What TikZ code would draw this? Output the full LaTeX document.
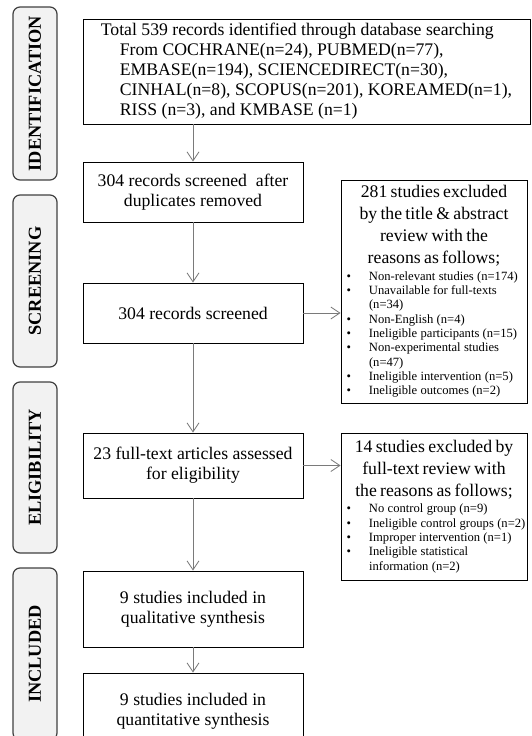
\documentclass[tikz,border=0pt]{standalone}
\usepackage{fontspec}
\setmainfont{Liberation Serif}
\usetikzlibrary{arrows.meta}
\definecolor{phasefill}{HTML}{F2F2F2}
\definecolor{phaseline}{HTML}{404040}
\definecolor{arrowgray}{HTML}{7A7A7A}
\newcommand{\bitem}[1]{\par\noindent\makebox[26pt][l]{\hspace{3.5pt}\textbullet}\mbox{#1}}
\newcommand{\bcont}[1]{\par\noindent\hspace*{26pt}\mbox{#1}}
\begin{document}
\begin{tikzpicture}[x=1pt,y=-1pt,
  mainbox/.style={draw=black, line width=0.9pt, minimum width=220pt, align=center,
    font=\fontsize{17.7}{20}\selectfont, inner sep=0pt},
  sidebox/.style={draw=black, line width=0.9pt, minimum width=186pt, text width=182pt, inner sep=2pt},
  phase/.style={draw=phaseline, line width=1.2pt, fill=phasefill, rounded corners=7pt,
    rotate=90, minimum height=44pt, inner sep=0pt, font=\fontsize{18.3}{20}\selectfont\bfseries},
  arr/.style={draw=arrowgray, line width=0.8pt, -{Straight Barb[length=9pt,width=12pt]}}]
\useasboundingbox (0,0) rectangle (531,736);
\clip (0,0) rectangle (531,736);

% phase labels
\node[phase, minimum width=173pt] (pid) at (35,93.5) {IDENTIFICATION};
\node[phase, minimum width=172pt] (psc) at (35,281) {SCREENING};
\node[phase, minimum width=171pt] (pel) at (35,467.5) {ELIGIBILITY};
\node[phase, minimum width=172pt] (pin) at (35,654) {INCLUDED};

% main boxes
\node[mainbox, minimum width=447pt, minimum height=105pt, align=left] (b1) at (306.5,71.5)
  {Total 539 records identified through database searching\\
   \hspace*{19pt}From COCHRANE(n=24), PUBMED(n=77),\\
   \hspace*{19pt}EMBASE(n=194), SCIENCEDIRECT(n=30),\\
   \hspace*{19pt}CINHAL(n=8), SCOPUS(n=201), KOREAMED(n=1),\\
   \hspace*{19pt}RISS (n=3), and KMBASE (n=1)};
\node[mainbox, minimum height=60pt] (b2) at (193,192) {304 records screened\ \ after\\duplicates removed};
\node[mainbox, minimum height=60pt] (b3) at (193,313) {304 records screened};
\node[mainbox, minimum height=65pt] (b4) at (193,465.5) {23 full-text articles assessed\\for eligibility};
\node[mainbox, minimum height=76pt] (b5) at (193,609) {9 studies included in\\qualitative synthesis};
\node[mainbox, minimum height=76pt] (b6) at (193,711) {9 studies included in\\quantitative synthesis};

% exclusion boxes
\node[sidebox, minimum height=223pt] (rb1) at (434,291.5)
  {{\fontsize{17.7}{22}\selectfont\centering 281 studies excluded\\by the title \& abstract\\review with the\\reasons as follows;\par}
   \vspace{2pt}
   {\fontsize{12.6}{14.3}\selectfont
   \bitem{Non-relevant studies (n=174)}
   \bitem{Unavailable for full-texts}
   \bcont{(n=34)}
   \bitem{Non-English (n=4)}
   \bitem{Ineligible participants (n=15)}
   \bitem{Non-experimental studies}
   \bcont{(n=47)}
   \bitem{Ineligible intervention (n=5)}
   \bitem{Ineligible outcomes (n=2)}\par}};
\node[sidebox, minimum height=147pt] (rb2) at (434,506.5)
  {{\fontsize{17.7}{22}\selectfont\centering 14 studies excluded by\\full-text review with\\the reasons as follows;\par}
   \vspace{2pt}
   {\fontsize{12.6}{14.3}\selectfont
   \bitem{No control group (n=9)}
   \bitem{Ineligible control groups (n=2)}
   \bitem{Improper intervention (n=1)}
   \bitem{Ineligible statistical}
   \bcont{information (n=2)}\par}};

% connectors
\draw[arr] (b2.north |- b1.south) -- (b2.north);
\draw[arr] (b2.south) -- (b3.north);
\draw[arr] (b3.south) -- (b4.north);
\draw[arr] (b4.south) -- (b5.north);
\draw[arr] (b5.south) -- (b6.north);
\draw[arr] (b3.east) -- (b3.east -| rb1.west);
\draw[arr] (b4.east) -- (b4.east -| rb2.west);
\end{tikzpicture}
\end{document}
